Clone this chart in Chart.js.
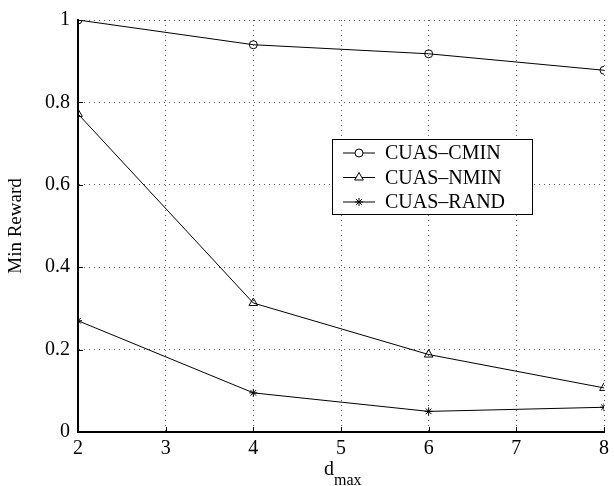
<!DOCTYPE html>
<html>
<head>
<meta charset="utf-8">
<script src="https://cdn.jsdelivr.net/npm/chart.js@4.4.0/dist/chart.umd.min.js"></script>
<style>
  html, body { margin: 0; padding: 0; background: #fff; }
  #wrap { width: 614px; height: 486px; }
</style>
</head>
<body>
<div id="wrap"><canvas id="chart" width="614" height="486"></canvas></div>
<script>
// データ
var dmax = [2, 4, 6, 8];
var cmin = [1.0, 0.94, 0.918, 0.878];
var nmin = [0.772, 0.313, 0.188, 0.107];
var rand = [0.27, 0.095, 0.05, 0.06];
var xTicks = [2, 3, 4, 5, 6, 7, 8];
var yTicks = [0, 0.2, 0.4, 0.6, 0.8, 1];

var FONT = "'Liberation Serif', 'Times New Roman', serif";

function pts(ys) {
  return dmax.map(function (x, i) { return { x: x, y: ys[i] }; });
}

// 凡例・軸ラベル・内向き目盛り
var extras = {
  id: 'extras',
  afterDraw: function (chart) {
    var c = chart.ctx;
    var xs = chart.scales.x, ys = chart.scales.y;
    var area = chart.chartArea;

    // 内向き目盛り
    c.save();
    c.strokeStyle = '#000';
    c.lineWidth = 1;
    c.beginPath();
    xTicks.forEach(function (t) {
      var px = Math.round(xs.getPixelForValue(t)) + 0.5;
      c.moveTo(px, area.bottom);
      c.lineTo(px, area.bottom - 5);
    });
    yTicks.forEach(function (t) {
      var py = Math.round(ys.getPixelForValue(t)) + 0.5;
      c.moveTo(area.left, py);
      c.lineTo(area.left + 5, py);
    });
    c.stroke();

    // x軸タイトル d_max
    c.fillStyle = '#000';
    c.textBaseline = 'alphabetic';
    c.textAlign = 'left';
    c.font = '20px ' + FONT;
    c.fillText('d', 324, 475);
    c.font = '16px ' + FONT;
    c.fillText('max', 334, 485);

    // 凡例
    var bx = 332.5, by = 139.5, bw = 200, bh = 75;
    c.fillStyle = '#fff';
    c.fillRect(bx, by, bw, bh);
    c.strokeStyle = '#000';
    c.lineWidth = 1;
    c.strokeRect(bx, by, bw, bh);
    c.font = '20px ' + FONT;
    c.textBaseline = 'middle';
    chart.data.datasets.forEach(function (ds, i) {
      var y = 153 + i * 24.5;
      c.strokeStyle = '#000';
      c.lineWidth = 1;
      c.beginPath();
      c.moveTo(343, y);
      c.lineTo(375, y);
      c.stroke();
      c.fillStyle = '#fff';
      Chart.helpers.drawPoint(c, {
        pointStyle: ds.pointStyle,
        radius: ds.pointRadius,
        borderWidth: 1
      }, 359, y);
      c.fillStyle = '#000';
      c.fillText(ds.label, 385, y + 1);
    });
    c.restore();
  }
};

var ctx = document.getElementById('chart');
var common = {
  borderColor: '#000',
  backgroundColor: '#fff',
  pointBorderColor: '#000',
  pointBackgroundColor: 'rgba(0,0,0,0)',
  borderWidth: 1,
  pointBorderWidth: 1,
  tension: 0,
  fill: false
};

new Chart(ctx, {
  type: 'line',
  data: {
    datasets: [
      Object.assign({ label: 'CUAS\u2013CMIN', data: pts(cmin), pointStyle: 'circle', pointRadius: 4 }, common),
      Object.assign({ label: 'CUAS\u2013NMIN', data: pts(nmin), pointStyle: 'triangle', pointRadius: 5 }, common),
      Object.assign({ label: 'CUAS\u2013RAND', data: pts(rand), pointStyle: 'star', pointRadius: 4 }, common)
    ]
  },
  options: {
    responsive: false,
    animation: false,
    events: [],
    layout: { padding: { top: 16, right: 6, left: 0, bottom: 0 } },
    plugins: {
      legend: { display: false },
      tooltip: { enabled: false }
    },
    scales: {
      x: {
        type: 'linear',
        min: 2,
        max: 8,
        afterBuildTicks: function (s) { s.ticks = xTicks.map(function (v) { return { value: v }; }); },
        afterFit: function (s) { s.height = 54; },
        grid: {
          color: '#555',
          lineWidth: 1,
          drawTicks: false
        },
        border: { display: true, color: '#000', width: 2, dash: [1, 4] },
        ticks: {
          color: '#000',
          padding: 5,
          font: { family: FONT, size: 20 },
          maxRotation: 0
        }
      },
      y: {
        min: 0,
        max: 1,
        afterBuildTicks: function (s) { s.ticks = yTicks.map(function (v) { return { value: v }; }); },
        afterFit: function (s) { s.width = 78; },
        grid: {
          color: '#555',
          lineWidth: 1,
          drawTicks: false
        },
        border: { display: true, color: '#000', width: 2, dash: [1, 4] },
        ticks: {
          color: '#000',
          padding: 8,
          font: { family: FONT, size: 20 },
          callback: function (v) { return String(Math.round(v * 10) / 10); }
        },
        title: {
          display: true,
          text: 'Min Reward',
          color: '#000',
          font: { family: FONT, size: 19 },
          padding: { top: 5, bottom: 0 }
        }
      }
    }
  },
  plugins: [extras]
});
</script>
</body>
</html>
